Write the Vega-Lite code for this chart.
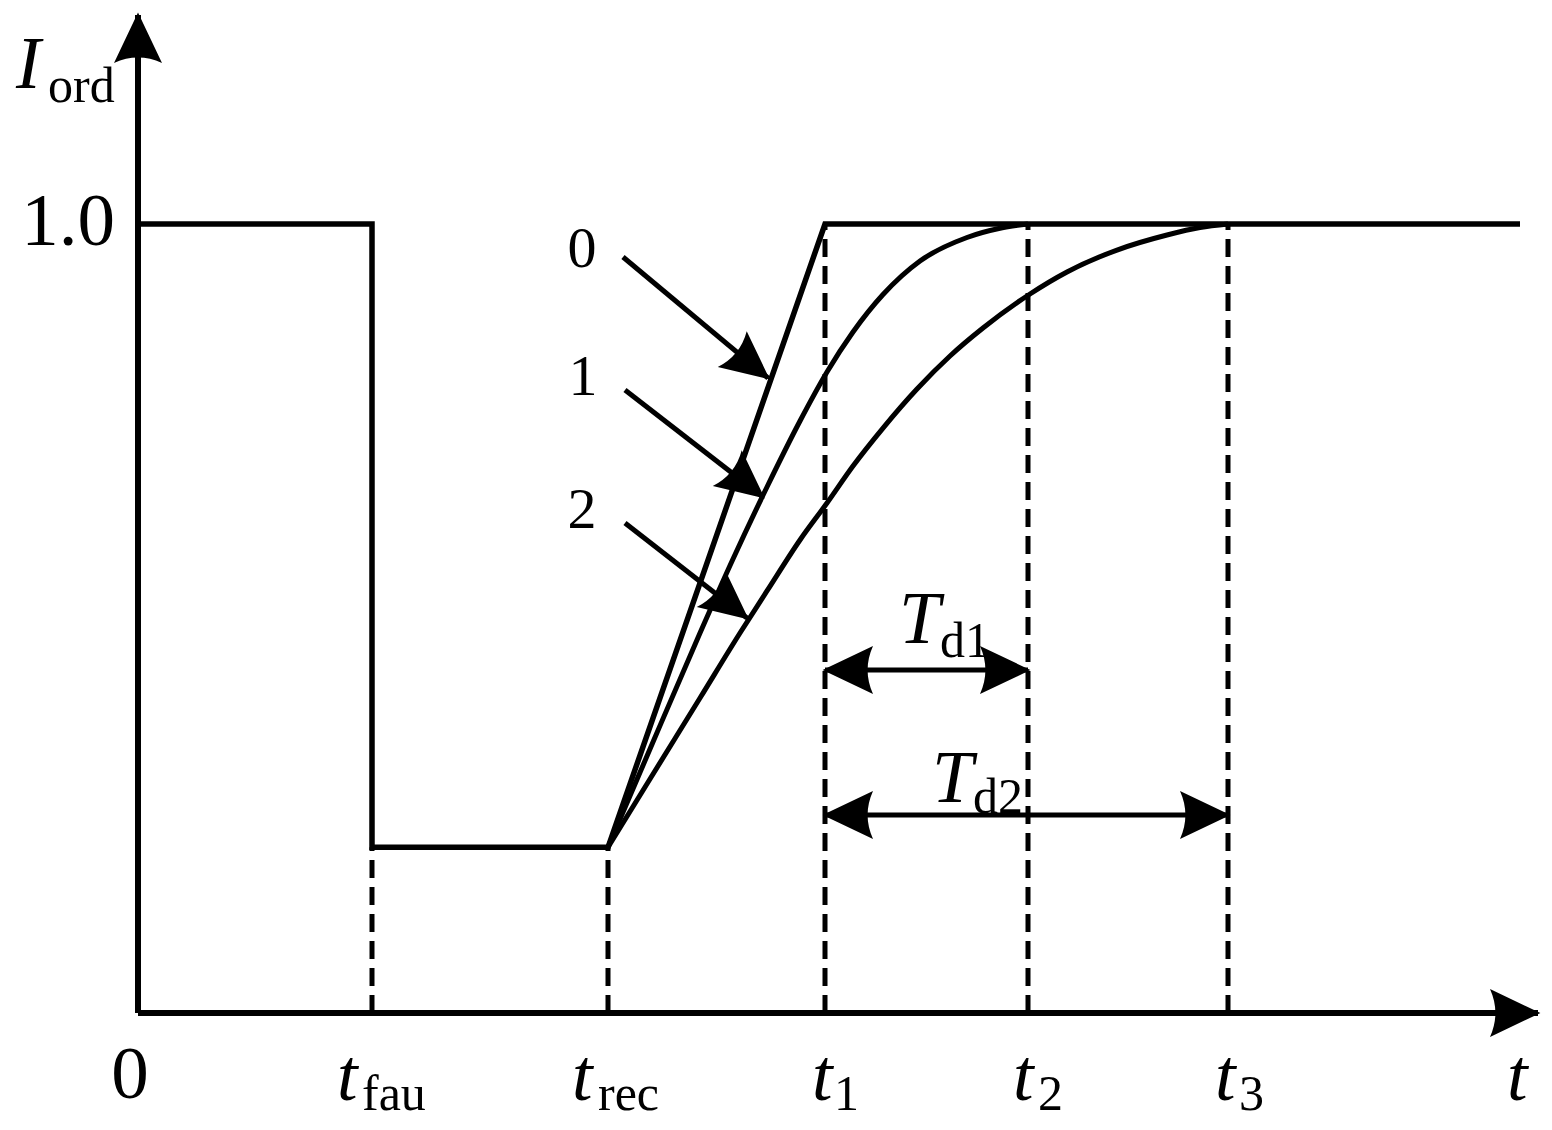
{
  "$schema": "https://vega.github.io/schema/vega-lite/v6.json",
  "width": 1552,
  "height": 1130,
  "autosize": {"type": "fit", "contains": "padding"},
  "padding": 0,
  "background": "white",
  "view": {"stroke": null},
  "config": {"font": "Liberation Serif"},
  "datasets": {
    "vlines": [
      {"name": "t_fau", "t": 2.34, "v": 0, "v2": 0.21},
      {"name": "t_rec", "t": 4.70, "v": 0, "v2": 0.21},
      {"name": "t1", "t": 6.87, "v": 0, "v2": 1.0},
      {"name": "t2", "t": 8.90, "v": 0, "v2": 1.0},
      {"name": "t3", "t": 10.90, "v": 0, "v2": 1.0}
    ],
    "axes": [
      {"name": "x", "t": 0, "v": 0, "t2": 14.0, "v2": 0},
      {"name": "y", "t": 0, "v": 0, "t2": 0, "v2": 1.265}
    ],
    "path": [
      {"i": 0, "t": 0, "v": 1.0},
      {"i": 1, "t": 2.34, "v": 1.0},
      {"i": 2, "t": 2.34, "v": 0.21},
      {"i": 3, "t": 4.70, "v": 0.21},
      {"i": 4, "t": 6.87, "v": 1.0},
      {"i": 5, "t": 13.82, "v": 1.0}
    ],
    "curves": [
      {"s": "1", "i": 0, "t": 4.70, "v": 0.21},
      {"s": "1", "i": 1, "t": 5.12, "v": 0.3346},
      {"s": "1", "i": 2, "t": 5.62, "v": 0.4816},
      {"s": "1", "i": 3, "t": 5.95, "v": 0.5754},
      {"s": "1", "i": 4, "t": 6.29, "v": 0.6667},
      {"s": "1", "i": 5, "t": 6.62, "v": 0.7503},
      {"s": "1", "i": 6, "t": 6.89, "v": 0.8124},
      {"s": "1", "i": 7, "t": 7.15, "v": 0.8631},
      {"s": "1", "i": 8, "t": 7.45, "v": 0.9106},
      {"s": "1", "i": 9, "t": 7.82, "v": 0.9531},
      {"s": "1", "i": 10, "t": 8.29, "v": 0.9829},
      {"s": "1", "i": 11, "t": 8.62, "v": 0.9946},
      {"s": "1", "i": 12, "t": 8.90, "v": 1.0},
      {"s": "2", "i": 0, "t": 4.70, "v": 0.21},
      {"s": "2", "i": 1, "t": 5.12, "v": 0.2966},
      {"s": "2", "i": 2, "t": 5.62, "v": 0.3992},
      {"s": "2", "i": 3, "t": 6.02, "v": 0.4816},
      {"s": "2", "i": 4, "t": 6.29, "v": 0.5349},
      {"s": "2", "i": 5, "t": 6.62, "v": 0.5995},
      {"s": "2", "i": 6, "t": 6.89, "v": 0.6464},
      {"s": "2", "i": 7, "t": 7.15, "v": 0.6933},
      {"s": "2", "i": 8, "t": 7.45, "v": 0.7414},
      {"s": "2", "i": 9, "t": 7.79, "v": 0.7909},
      {"s": "2", "i": 10, "t": 8.12, "v": 0.8327},
      {"s": "2", "i": 11, "t": 8.45, "v": 0.8682},
      {"s": "2", "i": 12, "t": 8.92, "v": 0.9113},
      {"s": "2", "i": 13, "t": 9.29, "v": 0.9392},
      {"s": "2", "i": 14, "t": 9.79, "v": 0.9670},
      {"s": "2", "i": 15, "t": 10.29, "v": 0.9861},
      {"s": "2", "i": 16, "t": 10.62, "v": 0.9956},
      {"s": "2", "i": 17, "t": 10.90, "v": 1.0}
    ],
    "pointers": [
      {"name": "0", "t": 4.85, "v": 0.9582, "t2": 6.30, "v2": 0.8048},
      {"name": "1", "t": 4.87, "v": 0.7896, "t2": 6.25, "v2": 0.6540},
      {"name": "2", "t": 4.87, "v": 0.6210, "t2": 6.09, "v2": 0.5006}
    ],
    "spans": [
      {"name": "Td1", "t": 6.87, "t2": 8.90, "v": 0.4347},
      {"name": "Td2", "t": 6.87, "t2": 10.90, "v": 0.2510}
    ],
    "bigText": [
      {"label": "1.0", "t": -0.70, "v": 0.9734},
      {"label": "0", "t": -0.08, "v": -0.1077}
    ],
    "italicText": [
      {"label": "I", "t": -1.22, "v": 1.1724},
      {"label": "t", "t": 1.99, "v": -0.1103},
      {"label": "t", "t": 4.34, "v": -0.1103},
      {"label": "t", "t": 6.74, "v": -0.1103},
      {"label": "t", "t": 8.75, "v": -0.1103},
      {"label": "t", "t": 10.77, "v": -0.1103},
      {"label": "t", "t": 13.69, "v": -0.1103},
      {"label": "T", "t": 7.61, "v": 0.4689},
      {"label": "T", "t": 7.94, "v": 0.2674}
    ],
    "subText": [
      {"label": "ord", "t": -0.90, "v": 1.1546},
      {"label": "fau", "t": 2.24, "v": -0.1229},
      {"label": "rec", "t": 4.60, "v": -0.1229},
      {"label": "1", "t": 6.96, "v": -0.1229},
      {"label": "2", "t": 9.00, "v": -0.1229},
      {"label": "3", "t": 11.01, "v": -0.1229},
      {"label": "d1", "t": 8.02, "v": 0.4512},
      {"label": "d2", "t": 8.35, "v": 0.2535}
    ],
    "curveLabels": [
      {"label": "0", "t": 4.44, "v": 0.9455},
      {"label": "1", "t": 4.45, "v": 0.7833},
      {"label": "2", "t": 4.44, "v": 0.6147}
    ]
  },
  "encoding": {
    "x": {"field": "t", "type": "quantitative", "scale": {"domain": [-1.38, 14.14], "nice": false, "zero": false}, "axis": null},
    "y": {"field": "v", "type": "quantitative", "scale": {"domain": [-0.14829, 1.2839], "nice": false, "zero": false}, "axis": null}
  },
  "layer": [
    {
      "data": {"name": "vlines"},
      "mark": {"type": "rule", "color": "black", "strokeWidth": 5, "strokeDash": [18, 9]},
      "encoding": {"y2": {"field": "v2"}}
    },
    {
      "data": {"name": "axes"},
      "mark": {"type": "rule", "color": "black", "strokeWidth": 6, "strokeCap": "butt"},
      "encoding": {"x2": {"field": "t2"}, "y2": {"field": "v2"}}
    },
    {
      "data": {"name": "path"},
      "mark": {"type": "line", "color": "black", "strokeWidth": 5.5, "strokeJoin": "miter", "interpolate": "linear"},
      "encoding": {"order": {"field": "i", "type": "quantitative"}}
    },
    {
      "data": {"name": "curves"},
      "mark": {"type": "line", "color": "black", "strokeWidth": 5, "interpolate": "monotone"},
      "encoding": {"detail": {"field": "s"}, "order": {"field": "i", "type": "quantitative"}}
    },
    {
      "data": {"name": "pointers"},
      "mark": {"type": "rule", "color": "black", "strokeWidth": 5, "strokeCap": "butt"},
      "encoding": {"x2": {"field": "t2"}, "y2": {"field": "v2"}}
    },
    {
      "data": {"name": "pointers"},
      "mark": {"type": "point", "filled": true, "color": "black", "opacity": 1, "strokeWidth": 0, "size": 2116, "angle": 39, "shape": "M0.1,0 L-2,-1 Q-1.55,0 -2,1 Z"},
      "encoding": {
        "x": {"field": "t2", "type": "quantitative", "scale": {"domain": [-1.38, 14.14], "nice": false, "zero": false}, "axis": null},
        "y": {"field": "v2", "type": "quantitative", "scale": {"domain": [-0.14829, 1.2839], "nice": false, "zero": false}, "axis": null}
      }
    },
    {
      "data": {"name": "spans"},
      "mark": {"type": "rule", "color": "black", "strokeWidth": 5, "strokeCap": "butt"},
      "encoding": {"x2": {"field": "t2"}}
    },
    {
      "data": {"name": "spans"},
      "mark": {"type": "point", "filled": true, "color": "black", "opacity": 1, "strokeWidth": 0, "size": 2304, "angle": 180, "shape": "M0.1,0 L-2,-1 Q-1.55,0 -2,1 Z"}
    },
    {
      "data": {"name": "spans"},
      "mark": {"type": "point", "filled": true, "color": "black", "opacity": 1, "strokeWidth": 0, "size": 2304, "angle": 0, "shape": "M0.1,0 L-2,-1 Q-1.55,0 -2,1 Z"},
      "encoding": {
        "x": {"field": "t2", "type": "quantitative", "scale": {"domain": [-1.38, 14.14], "nice": false, "zero": false}, "axis": null}
      }
    },
    {
      "data": {"name": "axes"},
      "transform": [{"filter": "datum.name === 'x'"}],
      "mark": {"type": "point", "filled": true, "color": "black", "opacity": 1, "strokeWidth": 0, "size": 2304, "angle": 0, "shape": "M0.1,0 L-2,-1 Q-1.55,0 -2,1 Z"},
      "encoding": {
        "x": {"field": "t2", "type": "quantitative", "scale": {"domain": [-1.38, 14.14], "nice": false, "zero": false}, "axis": null},
        "y": {"field": "v2", "type": "quantitative", "scale": {"domain": [-0.14829, 1.2839], "nice": false, "zero": false}, "axis": null}
      }
    },
    {
      "data": {"name": "axes"},
      "transform": [{"filter": "datum.name === 'y'"}],
      "mark": {"type": "point", "filled": true, "color": "black", "opacity": 1, "strokeWidth": 0, "size": 2304, "angle": 270, "shape": "M0.1,0 L-2,-1 Q-1.55,0 -2,1 Z"},
      "encoding": {
        "x": {"field": "t2", "type": "quantitative", "scale": {"domain": [-1.38, 14.14], "nice": false, "zero": false}, "axis": null},
        "y": {"field": "v2", "type": "quantitative", "scale": {"domain": [-0.14829, 1.2839], "nice": false, "zero": false}, "axis": null}
      }
    },
    {
      "data": {"name": "bigText"},
      "mark": {"type": "text", "color": "black", "font": "Liberation Serif", "fontSize": 75, "align": "center", "baseline": "alphabetic"},
      "encoding": {"text": {"field": "label"}}
    },
    {
      "data": {"name": "italicText"},
      "mark": {"type": "text", "color": "black", "font": "Liberation Serif", "fontSize": 74, "fontStyle": "italic", "align": "left", "baseline": "alphabetic"},
      "encoding": {"text": {"field": "label"}}
    },
    {
      "data": {"name": "subText"},
      "mark": {"type": "text", "color": "black", "font": "Liberation Serif", "fontSize": 50, "align": "left", "baseline": "alphabetic"},
      "encoding": {"text": {"field": "label"}}
    },
    {
      "data": {"name": "curveLabels"},
      "mark": {"type": "text", "color": "black", "font": "Liberation Serif", "fontSize": 58, "align": "center", "baseline": "alphabetic"},
      "encoding": {"text": {"field": "label"}}
    }
  ]
}
